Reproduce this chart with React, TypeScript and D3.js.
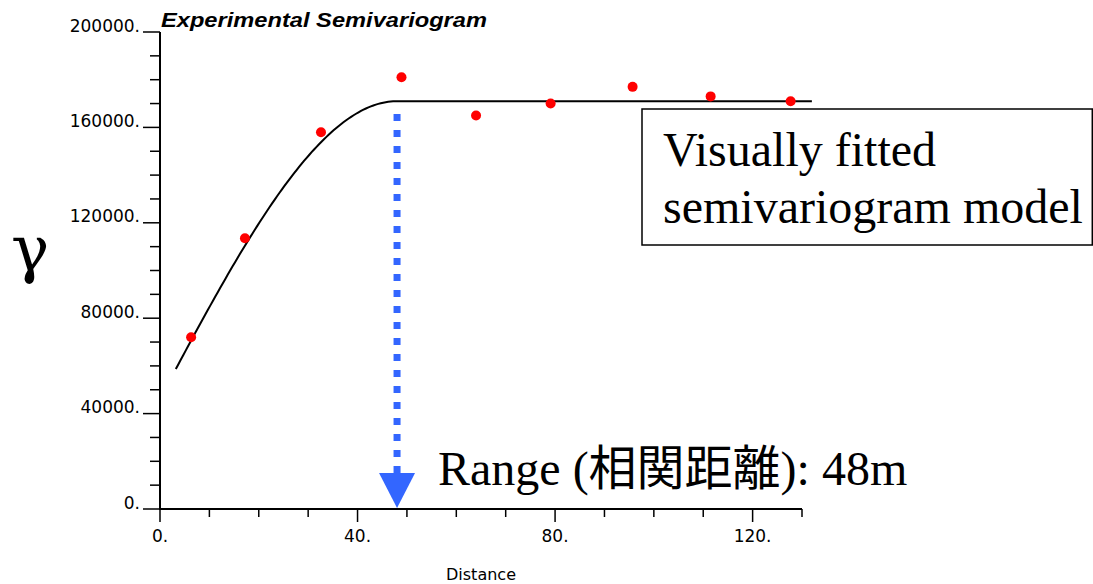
import React from "react";
import * as d3 from "d3";

// Experimental semivariogram: lag distance (m) and semivariance
const lagDistance = [6.3, 17.2, 32.6, 48.9, 64.0, 79.1, 95.7, 111.5, 127.7];
const gammaValues = [72000, 113500, 158000, 181000, 165000, 170000, 177000, 173000, 171000];

// Visually fitted spherical model
const nugget = 46200;
const sill = 171000;
const range = 48;
const modelStart = 3.2;
const modelEnd = 132;

const xTicksMajor = [0, 40, 80, 120];
const xTickLabels = ["0.", "40.", "80.", "120."];
const yTicksMajor = [0, 40000, 80000, 120000, 160000, 200000];
const yTickLabels = ["0.", "40000.", "80000.", "120000.", "160000.", "200000."];

const W = 1093;
const H = 584;

function spherical(h: number): number {
  if (h >= range) return sill;
  const r = h / range;
  return nugget + (sill - nugget) * (1.5 * r - 0.5 * r * r * r);
}

export default function App() {
  const x = d3.scaleLinear().domain([0, 130]).range([160, 802]);
  const y = d3.scaleLinear().domain([0, 200000]).range([509, 32]);

  const xMinor = d3.range(0, 131, 10);
  const yMinor = d3.range(0, 200001, 10000);

  const hs = d3.range(modelStart, modelEnd, 0.5).concat([modelEnd]);
  const line = d3
    .line<number>()
    .x((h) => x(h))
    .y((h) => y(spherical(h)));

  const axisFont = "'DejaVu Sans', Verdana, sans-serif";
  const serif = "'Liberation Serif', 'Times New Roman', 'Noto Sans CJK JP', serif";
  const blue = "#3366ff";
  const ax = x(range);

  return (
    <div style={{ position: "absolute", left: 0, top: 0 }}>
      <svg width={W} height={H} viewBox={`0 0 ${W} ${H}`} style={{ display: "block", background: "#fff" }}>
        {/* title */}
        <text
          x={161}
          y={27}
          fontFamily="'Liberation Sans', Arial, sans-serif"
          fontWeight="bold"
          fontStyle="italic"
          fontSize={21}
          textLength={326}
          lengthAdjust="spacingAndGlyphs"
          fill="#000"
        >
          Experimental Semivariogram
        </text>

        {/* y axis */}
        <line x1={x(0)} x2={x(0)} y1={y(200000)} y2={y(0) + 1} stroke="#000" strokeWidth={2} />
        {yMinor.map((v) => {
          const major = v % 40000 === 0;
          return (
            <line
              key={"ym" + v}
              x1={major ? 143 : 150}
              x2={x(0)}
              y1={y(v)}
              y2={y(v)}
              stroke="#000"
              strokeWidth={1.5}
            />
          );
        })}
        {yTicksMajor.map((v, i) => (
          <text
            key={"yl" + v}
            x={140}
            y={y(v) - 0.5}
            textAnchor="end"
            fontFamily={axisFont}
            fontSize={17}
            fill="#000"
          >
            {yTickLabels[i]}
          </text>
        ))}

        {/* x axis */}
        <line x1={x(0) - 1} x2={x(130)} y1={y(0)} y2={y(0)} stroke="#000" strokeWidth={2} />
        {xMinor.map((v) => {
          const major = v % 40 === 0;
          return (
            <line
              key={"xm" + v}
              x1={x(v)}
              x2={x(v)}
              y1={y(0)}
              y2={y(0) + (major ? 13 : 8)}
              stroke="#000"
              strokeWidth={1.5}
            />
          );
        })}
        {xTicksMajor.map((v, i) => (
          <text
            key={"xl" + v}
            x={x(v)}
            y={542}
            textAnchor="middle"
            fontFamily={axisFont}
            fontSize={17}
            fill="#000"
          >
            {xTickLabels[i]}
          </text>
        ))}
        <text x={481} y={580} textAnchor="middle" fontFamily={axisFont} fontSize={16} fill="#000">
          Distance
        </text>

        {/* gamma symbol */}
        <text x={11} y={271} fontFamily="'DejaVu Serif', serif" fontSize={64} fill="#000">
          γ
        </text>

        {/* model curve */}
        <path d={line(hs) || ""} fill="none" stroke="#000" strokeWidth={2} />

        {/* experimental points */}
        {lagDistance.map((h, i) => (
          <circle key={"p" + i} cx={x(h)} cy={y(gammaValues[i])} r={5} fill="#ff0000" />
        ))}

        {/* range arrow */}
        <line
          x1={ax}
          x2={ax}
          y1={114}
          y2={473}
          stroke={blue}
          strokeWidth={7}
          strokeDasharray="7,9"
        />
        <path
          d={`M${ax - 18},473 L${ax + 18},473 L${ax},508 Z`}
          fill={blue}
        />
        <text x={438} y={485} fontFamily={serif} fontSize={48} fill="#000">
          Range (相関距離): 48m
        </text>

        {/* annotation box */}
        <rect x={642} y={109} width={450.3} height={136} fill="#fff" stroke="#000" strokeWidth={1.5} />
        <text x={663} y={166} fontFamily={serif} fontSize={48} fill="#000">
          Visually fitted
        </text>
        <text x={663} y={223} fontFamily={serif} fontSize={48} fill="#000">
          semivariogram model
        </text>
      </svg>
    </div>
  );
}
